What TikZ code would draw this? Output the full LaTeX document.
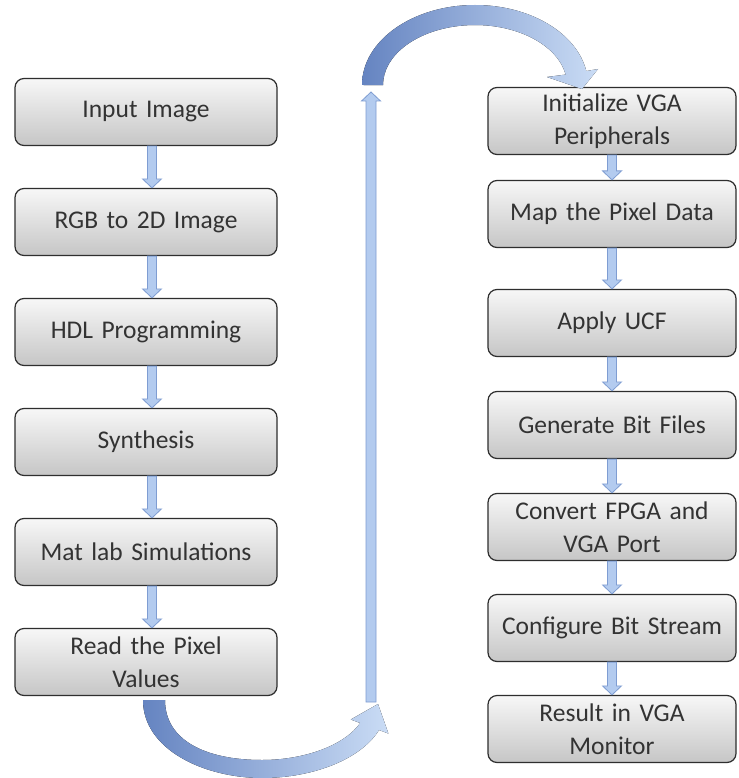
\documentclass[tikz,border=0pt]{standalone}
\usepackage{fontspec}
\setmainfont{Carlito}
\usetikzlibrary{calc,shadings}
\definecolor{boxtop}{HTML}{F7F7F7}
\definecolor{boxbot}{HTML}{C6C6C6}
\definecolor{boxline}{HTML}{2E2E2E}
\definecolor{txt}{HTML}{333333}
\definecolor{arfill}{HTML}{B3CBEF}
\definecolor{arline}{HTML}{7F9DD2}
\definecolor{bigdark}{HTML}{6584C1}
\definecolor{biglight}{HTML}{CADCF5}
\tikzset{
  box/.style={draw=boxline, line width=1.2pt, rounded corners=9pt,
    top color=boxtop, bottom color=boxbot, text=txt, align=center,
    inner sep=2pt, minimum height=67pt,
    font=\fontsize{25.5}{33}\selectfont},
  leftbox/.style={box, minimum width=262pt, text width=255pt},
  rightbox/.style={box, minimum width=248pt, text width=242pt},
  smallarrow/.style={fill=arfill, draw=arline, line width=0.8pt, line join=miter},
  bigarrow/.style={left color=bigdark, right color=biglight, draw=none},
}
\newcommand{\blockarr}[3][0]{%
  \draw[smallarrow] let \p1=(#2.south), \p2=(#3.north) in
    (\x1+#1pt-4.5pt,\y1) -- (\x1+#1pt-4.5pt,\y2+9pt) -- (\x1+#1pt-9.5pt,\y2+9pt)
    -- (\x1+#1pt,\y2) -- (\x1+#1pt+9.5pt,\y2+9pt) -- (\x1+#1pt+4.5pt,\y2+9pt)
    -- (\x1+#1pt+4.5pt,\y1) -- cycle;}
\begin{document}
\begin{tikzpicture}[x=1pt,y=-1pt]
\fill[white] (0,0) rectangle (738,778);
\useasboundingbox (0,0) rectangle (738,778);

% left column
\node[leftbox] (l1) at (146,112) {Input Image};
\node[leftbox] (l2) at (146,222) {RGB to 2D Image};
\node[leftbox] (l3) at (146,332) {HDL Programming};
\node[leftbox] (l4) at (146,442) {Synthesis};
\node[leftbox] (l5) at (146,552) {Mat lab Simulations};
\node[leftbox] (l6) at (146,662) {Read the Pixel\\Values};

% right column
\node[rightbox] (r1) at (612,121) {Initialize VGA\\Peripherals};
\node[rightbox] (r2) at (612,214) {Map the Pixel Data};
\node[rightbox] (r3) at (612,323) {Apply UCF};
\node[rightbox] (r4) at (612,425) {Generate Bit Files};
\node[rightbox] (r5) at (612,527) {Convert FPGA and\\VGA Port};
\node[rightbox] (r6) at (612,628) {Configure Bit Stream};
\node[rightbox] (r7) at (612,729) {Result in VGA\\Monitor};

% small block arrows
\blockarr[6]{l1}{l2}
\blockarr[6]{l2}{l3}
\blockarr[6]{l3}{l4}
\blockarr[6]{l4}{l5}
\blockarr[6]{l5}{l6}
\blockarr{r1}{r2}
\blockarr{r2}{r3}
\blockarr{r3}{r4}
\blockarr{r4}{r5}
\blockarr{r5}{r6}
\blockarr{r6}{r7}

% bottom curved arrow (from left column towards the vertical arrow)
\fill[bigarrow]
  (143,700) .. controls (143,750) and (205,778) .. (262,778)
  .. controls (315,778) and (362,758) .. (379,730)
  -- (388.4,733.5) -- (378,704) -- (350.8,719.5) -- (360.2,723)
  .. controls (345,745) and (305,760) .. (262,760)
  .. controls (205,760) and (165,740) .. (165,700) -- cycle;

% vertical arrow
\coordinate (vbot) at (371,702);
\coordinate (vtop) at (371,92);
\draw[smallarrow] let \p1=(vbot), \p2=(vtop) in
  (\x1-5pt,\y1) -- (\x1-5pt,\y2-9pt) -- (\x1-9.5pt,\y2-9pt) -- (\x1,\y2)
  -- (\x1+9.5pt,\y2-9pt) -- (\x1+5pt,\y2-9pt) -- (\x1+5pt,\y1) -- cycle;

% top curved arrow (towards the right column)
\fill[bigarrow]
  (362,85) arc[start angle=180, end angle=350, x radius=113, y radius=80]
  -- (598,69) -- (582,89) -- (547,77) -- (565.6,74.6)
  arc[start angle=350, end angle=180, x radius=92, y radius=60] -- cycle;
\end{tikzpicture}
\end{document}
